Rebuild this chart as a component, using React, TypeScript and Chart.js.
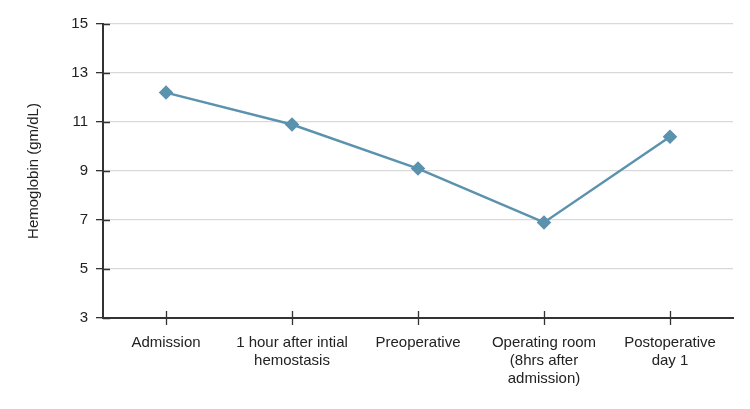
import React, { useEffect, useRef } from "react";
import { Chart, registerables } from "chart.js";

Chart.register(...registerables);

const categories: (string | string[])[] = [
  "Admission",
  ["1 hour after intial", "hemostasis"],
  "Preoperative",
  ["Operating room", "(8hrs after", "admission)"],
  ["Postoperative", "day 1"],
];
const hemoglobin = [12.2, 10.9, 9.1, 6.9, 10.4];
const yMin = 3;
const yMax = 15;
const yStep = 2;

const AXIS = "#333333";
const FONT = "'Liberation Sans', Arial, sans-serif";

const innerTicks = {
  id: "innerTicks",
  afterDraw(chart: any) {
    const ctx = chart.ctx;
    const { x, y } = chart.scales;
    const area = chart.chartArea;
    ctx.save();
    ctx.strokeStyle = AXIS;
    ctx.lineWidth = 1.3;
    ctx.beginPath();
    y.ticks.forEach((_t: any, i: number) => {
      const py = Math.round(y.getPixelForTick(i)) + 0.5;
      ctx.moveTo(area.left, py);
      ctx.lineTo(area.left + 7, py);
    });
    x.ticks.forEach((_t: any, i: number) => {
      const px = Math.round(x.getPixelForTick(i)) + 0.5;
      ctx.moveTo(px, area.bottom);
      ctx.lineTo(px, area.bottom - 7);
    });
    ctx.stroke();
    ctx.restore();
  },
};

export default function App() {
  const ref = useRef<HTMLCanvasElement | null>(null);
  useEffect(() => {
    document.body.style.margin = "0";
    if (!ref.current) return;
    const chart = new Chart(ref.current, {
      type: "line",
      data: {
        labels: categories,
        datasets: [
          {
            data: hemoglobin,
            borderColor: "#5b92ae",
            backgroundColor: "#5b92ae",
            borderWidth: 2.5,
            pointStyle: "rectRot",
            pointRadius: 5.5,
            pointHoverRadius: 5.5,
            tension: 0,
          },
        ],
      },
      options: {
        animation: false,
        responsive: false,
        maintainAspectRatio: false,
        layout: { padding: { top: 24, right: 17, left: 25, bottom: 0 } },
        plugins: { legend: { display: false }, tooltip: { enabled: false } },
        scales: {
          x: {
            offset: true,
            grid: {
              display: true,
              drawOnChartArea: false,
              tickLength: 7,
              tickColor: AXIS,
              tickWidth: 1.3,
              offset: false,
            },
            border: { color: AXIS, width: 2 },
            ticks: {
              color: "#222",
              font: { family: FONT, size: 15 },
              padding: 9,
              maxRotation: 0,
              autoSkip: false,
            },
            afterFit: (s: any) => {
              s.height = 91;
            },
          },
          y: {
            min: yMin,
            max: yMax,
            grid: {
              color: "#d9d9d9",
              lineWidth: 1.3,
              tickLength: 7,
              tickColor: AXIS,
              tickWidth: 1.3,
            },
            border: { color: AXIS, width: 2 },
            ticks: {
              stepSize: yStep,
              color: "#222",
              font: { family: FONT, size: 15 },
              padding: 8,
            },
            title: {
              display: true,
              text: "Hemoglobin (gm/dL)",
              color: "#222",
              font: { family: FONT, size: 15 },
              padding: 0,
            },
            afterFit: (s: any) => {
              s.width = 78;
            },
          },
        },
      },
      plugins: [innerTicks],
    });
    return () => chart.destroy();
  }, []);
  return (
    <div style={{ width: 750, height: 409, background: "#fff" }}>
      <canvas ref={ref} width={750} height={409} />
    </div>
  );
}
